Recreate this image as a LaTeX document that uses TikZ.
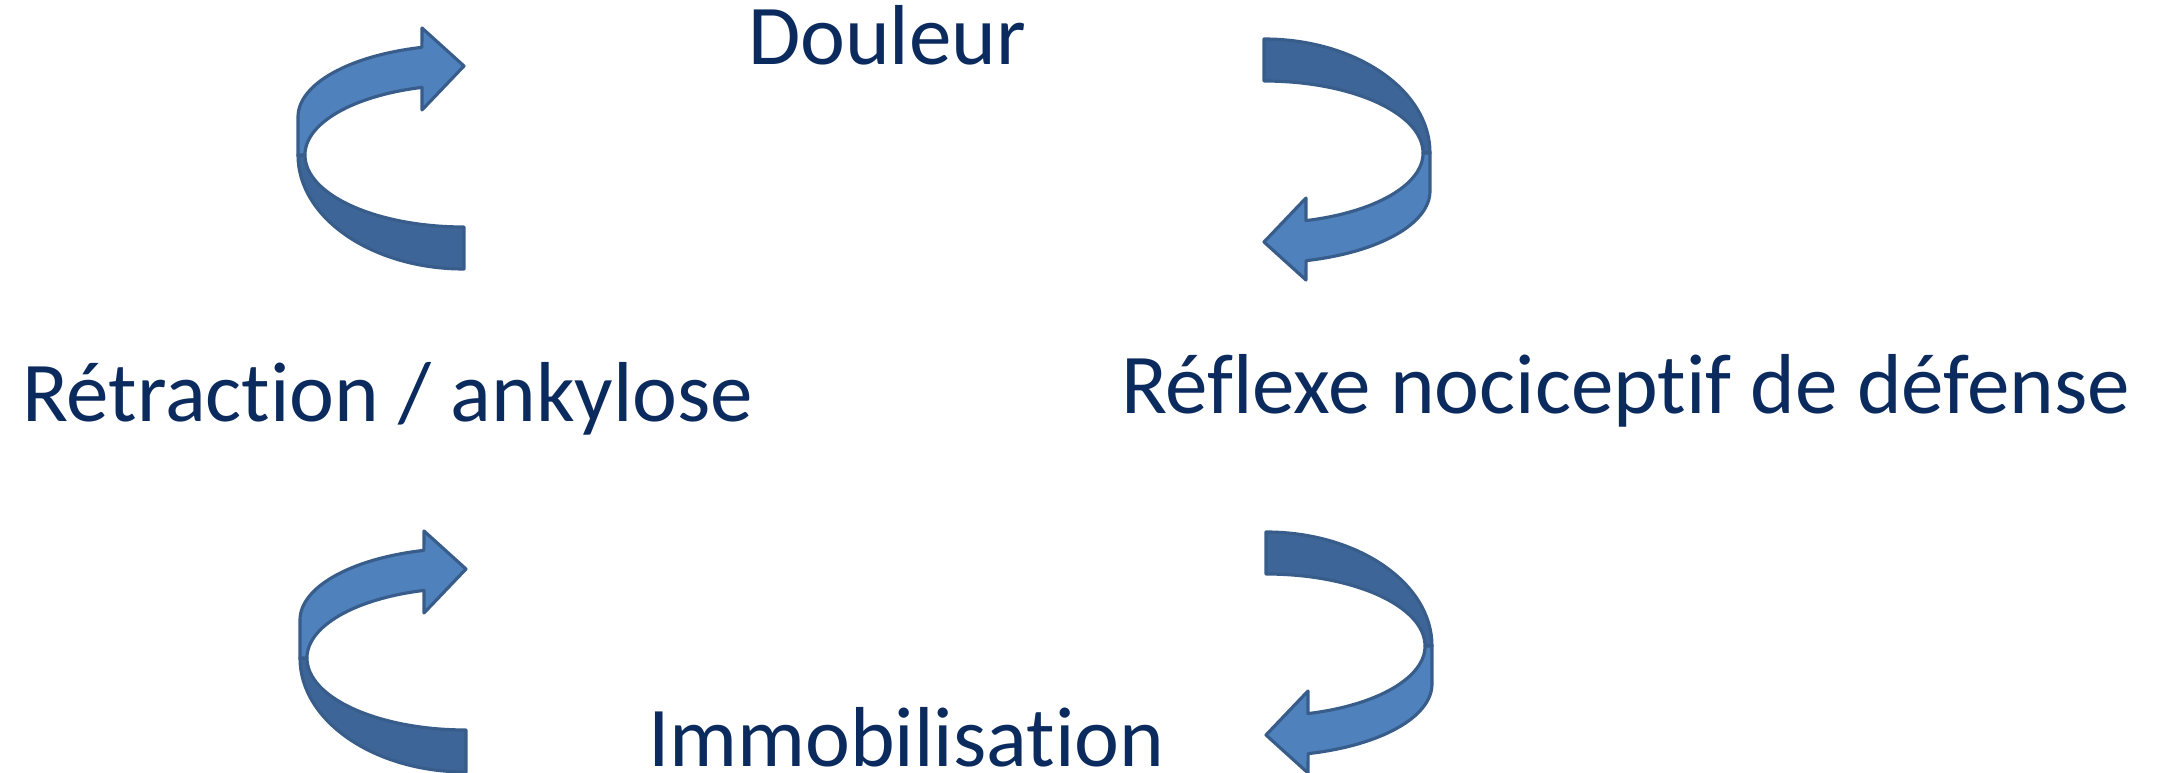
\documentclass[tikz,border=0pt]{standalone}
\usepackage{fontspec}
\setmainfont{Carlito}[Ligatures=NoCommon]
\definecolor{arrowfront}{RGB}{79,129,189}
\definecolor{arrowback}{RGB}{61,101,152}
\definecolor{arrowline}{RGB}{56,93,138}
\definecolor{textnavy}{RGB}{11,43,94}
\tikzset{
	band/.style={draw=arrowline, line width=0.9pt, line join=round},
	cycletext/.style={anchor=base west, inner sep=0pt, outer sep=0pt, text=textnavy, font=\fontsize{24.2pt}{28pt}\selectfont}
}
% one curved arrow, origin at the centre of its ellipses, #2 = rotation
\def\curvedarrow(#1)[#2]{
	\begin{scope}[shift={(#1)}, rotate=#2]
		\draw[band, fill=arrowback] (-166, 0) arc[start angle=180, end angle=90, x radius=166, y radius=114] -- (0, 72) arc[start angle=90, end angle=180, x radius=159, y radius=72] -- cycle;
		\draw[band, fill=arrowfront] (-166, 0) -- (-166, -38) arc[start angle=180, end angle=255.3, x radius=166, y radius=72] -- (-42, -127) -- (0, -89) -- (-42, -45) -- (-42, -67.6) arc[start angle=254.7, end angle=180, x radius=159, y radius=70] -- cycle;
	\end{scope}
}

\begin{document}
\begin{tikzpicture}[x=0.01cm, y=-0.01cm]
			%%%%% START %%%%%
			\useasboundingbox (0, 0) rectangle (2162, 773);
			
			\node[cycletext] (douleur) at (748, 65) {Douleur};
			\node[cycletext] (reflexe) at (1121, 414) {Réflexe nociceptif de défense};
			\node[cycletext] (retraction) at (22, 422) {Rétraction / ankylose};
			\node[cycletext] (immob) at (648, 767) {Immobilisation};
			
			\curvedarrow(464, 155)[0]
			\curvedarrow(1264, 153)[180]
			\curvedarrow(466, 658)[0]
			\curvedarrow(1266, 646)[180]
			
			%%%%% END %%%%%
\end{tikzpicture}
\end{document}
